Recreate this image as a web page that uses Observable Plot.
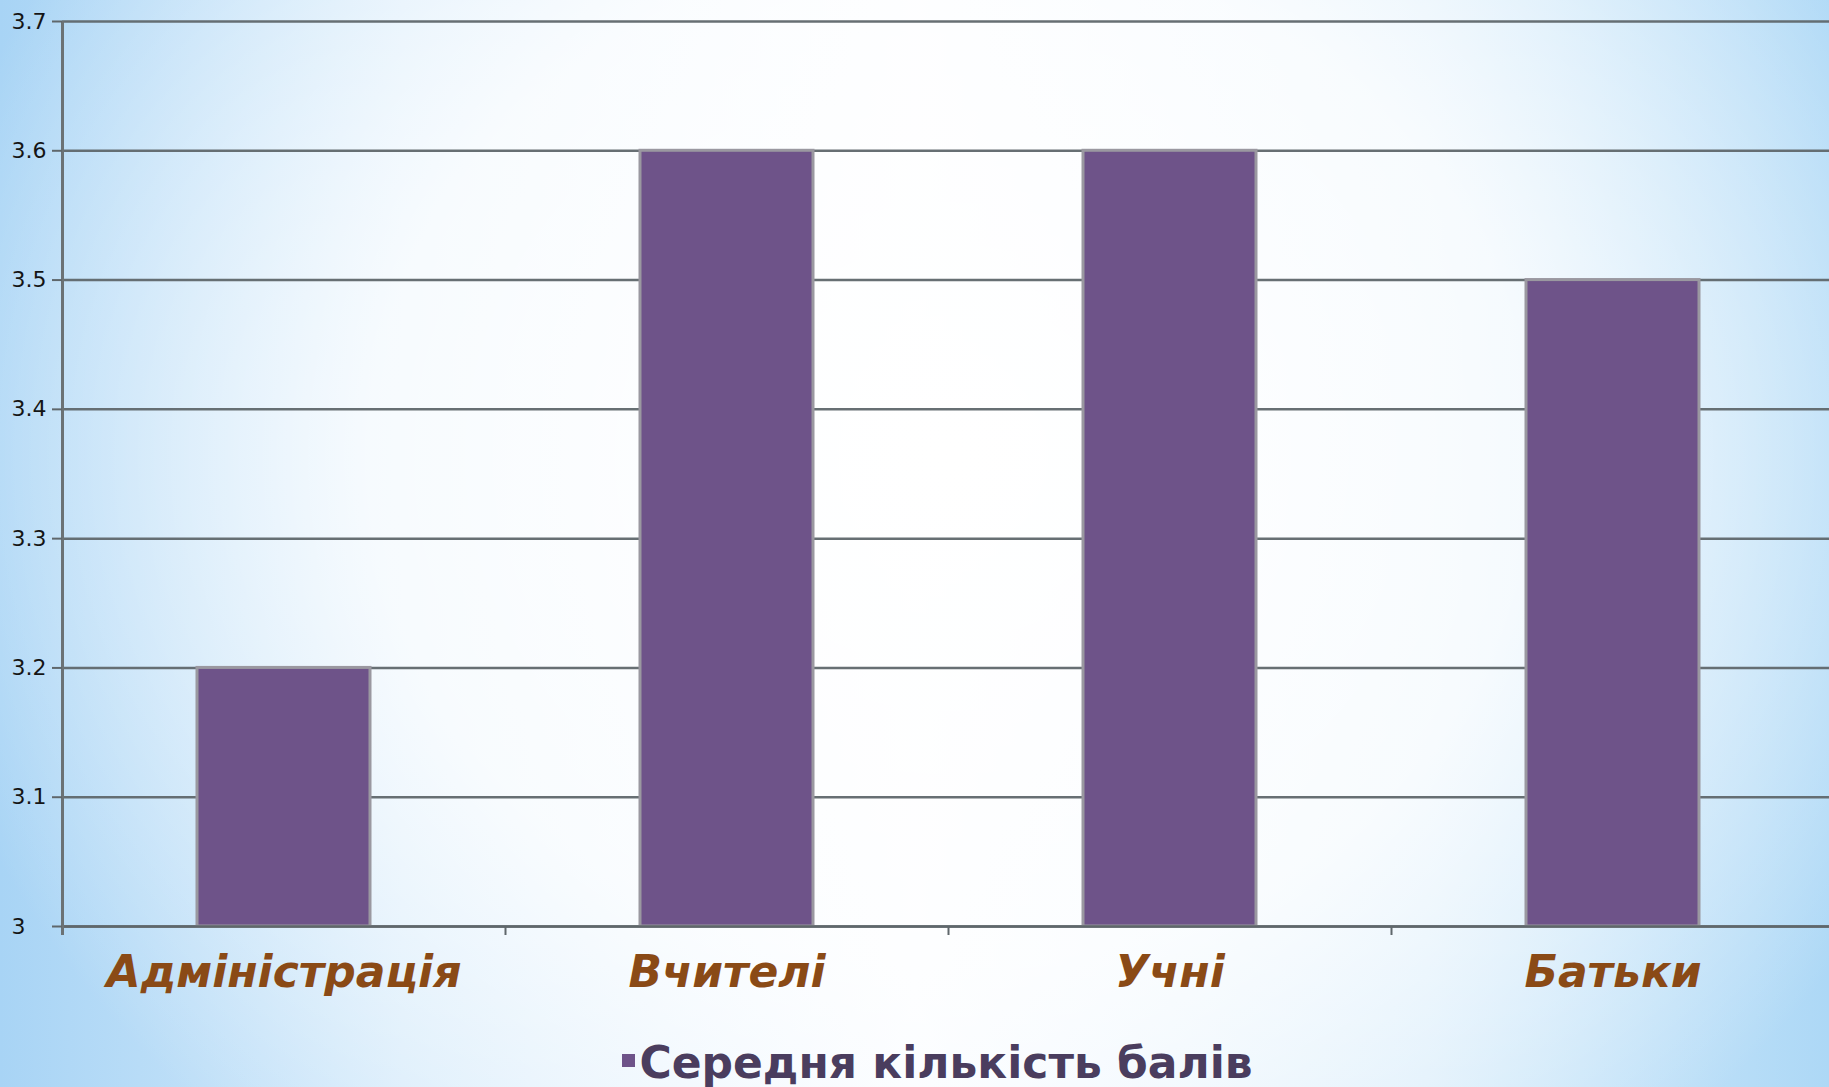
<!DOCTYPE html>
<html>
<head>
<meta charset="utf-8">
<script src="https://cdn.jsdelivr.net/npm/d3@7"></script>
<script src="https://cdn.jsdelivr.net/npm/@observablehq/plot@0.6"></script>
<style>
  html, body { margin: 0; padding: 0; overflow: hidden; }
  body {
    width: 1829px; height: 1087px;
    background:
      radial-gradient(ellipse 58% 85% at 52% 42%, rgba(255,255,255,1) 0%, rgba(255,255,255,0.8) 55%, rgba(255,255,255,0) 100%),
      linear-gradient(to right, #a8d4f5 0%, #d6ebfb 22%, #f7fbff 50%, #d9edfb 78%, #add8f6 100%);
  }
  #chart svg { display: block; }
  #legend {
    height: 67px; line-height: 67px; margin-top: 9px;
    text-align: center; padding-left: 46px;
    font-family: "DejaVu Sans", sans-serif; font-weight: bold; font-size: 44px;
    color: #4a3d5e; white-space: nowrap;
  }
  #legend .sw { display: inline-block; width: 13px; height: 13px; background: #6e5389; vertical-align: middle; margin-right: 4px; position: relative; top: -6px; }
</style>
</head>
<body>
<div id="chart"></div>
<div id="legend"></div>
<script>
const categories = ["Адміністрація", "Вчителі", "Учні", "Батьки"];
const values = [3.2, 3.6, 3.6, 3.5];
const seriesName = "Середня кількість балів";
const yTicks = [3, 3.1, 3.2, 3.3, 3.4, 3.5, 3.6, 3.7];
const yTickLabels = ["3", "3.1", "3.2", "3.3", "3.4", "3.5", "3.6", "3.7"];

const data = categories.map((c, i) => ({category: c, value: values[i]}));
const W = 1829, H = 1020;
const xRange = [62, 1834];
const step = (xRange[1] - xRange[0]) / categories.length;
const yMin = yTicks[0], yMax = yTicks[yTicks.length - 1];

const chart = Plot.plot({
  width: W, height: H,
  marginLeft: 62, marginRight: 0, marginTop: 21, marginBottom: 94,
  style: {background: "transparent", overflow: "visible"},
  x: {domain: categories, range: xRange, paddingInner: 0.61, paddingOuter: 0.305, axis: null},
  y: {domain: [yMin, yMax], axis: null},
  marks: [
    Plot.ruleY(yTicks, {y: d => d, stroke: "#5f676b", strokeWidth: 2.5, strokeOpacity: 0.95}),
    Plot.barY(data, {x: "category", y1: yMin, y2: "value", fill: "#6e5389", stroke: "#9a98a0", strokeWidth: 3}),
    Plot.ruleY([yMin], {y: d => d, stroke: "#5f676b", strokeWidth: 2.5}),
    Plot.ruleX([categories[0]], {x: d => d, dx: -step / 2, y1: yMax, y2: yMin, insetBottom: -9, stroke: "#6b7275", strokeWidth: 3}),
    Plot.ruleX(categories.slice(1), {x: d => d, dx: -step / 2, y1: yMin, y2: yMin, insetBottom: -9, stroke: "#5f676b", strokeWidth: 2}),
    Plot.axisY({ticks: yTicks, tickSize: 10, tickFormat: () => "", label: null, stroke: "#5f676b", strokeWidth: 2}),
    Plot.text(yTicks, {y: d => d, text: (d, i) => yTickLabels[i], frameAnchor: "left", textAnchor: "start", dx: -51,
      fontSize: 22, fontFamily: "DejaVu Sans, sans-serif", fill: "#151515", letterSpacing: "4px"}),
    Plot.text(categories, {x: d => d, text: d => d, frameAnchor: "bottom", dy: 46, lineAnchor: "middle",
      fontSize: 44, fontFamily: "DejaVu Sans, sans-serif", fontWeight: "bold", fontStyle: "oblique", fill: "#8a4a16"})
  ]
});
document.getElementById("chart").appendChild(chart);

const legend = document.getElementById("legend");
const sw = document.createElement("span");
sw.className = "sw";
legend.appendChild(sw);
legend.appendChild(document.createTextNode(seriesName));
</script>
</body>
</html>
